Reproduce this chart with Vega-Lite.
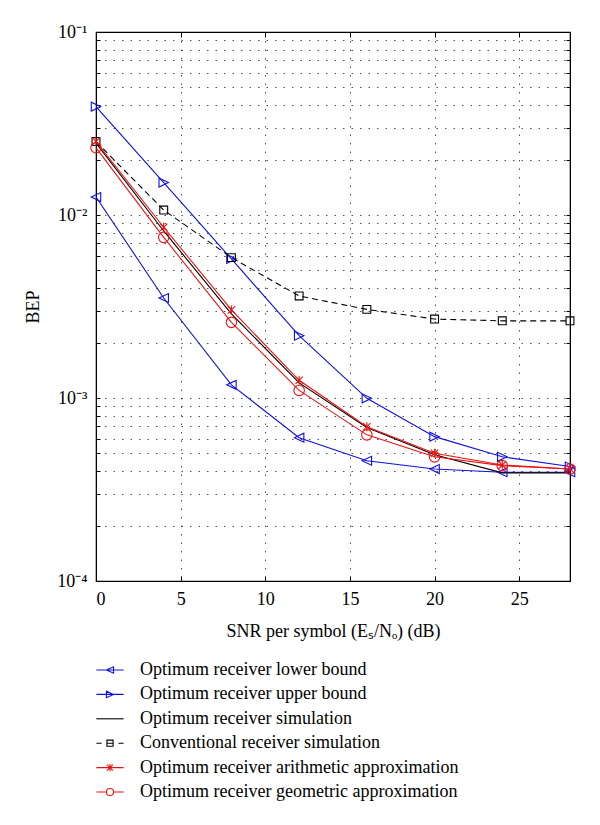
{
  "$schema": "https://vega.github.io/schema/vega-lite/v6.json",
  "autosize": "none",
  "width": 474,
  "height": 549,
  "padding": {"left": 96, "top": 32, "right": 30, "bottom": 244},
  "background": "white",
  "config": {
    "view": {"stroke": "black", "strokeWidth": 1.2},
    "font": "Liberation Serif",
    "axis": {
      "labelFont": "Liberation Serif",
      "titleFont": "Liberation Serif",
      "labelFontSize": 18,
      "titleFontSize": 18,
      "titleFontWeight": "normal",
      "labelColor": "black",
      "titleColor": "black",
      "domainColor": "black",
      "tickColor": "black",
      "gridColor": "#333",
      "gridDash": [1.5, 7],
      "gridWidth": 1,
      "gridOpacity": 0.85
    },
    "legend": {
      "labelFont": "Liberation Serif",
      "labelFontSize": 18,
      "labelColor": "black",
      "labelLimit": 0
    }
  },
  "data": {
    "values": [
      {"snr": 0, "bep": 0.01253, "series": "Optimum receiver lower bound"},
      {"snr": 4, "bep": 0.00352, "series": "Optimum receiver lower bound"},
      {"snr": 8, "bep": 0.00118, "series": "Optimum receiver lower bound"},
      {"snr": 12, "bep": 0.000607, "series": "Optimum receiver lower bound"},
      {"snr": 16, "bep": 0.000454, "series": "Optimum receiver lower bound"},
      {"snr": 20, "bep": 0.000409, "series": "Optimum receiver lower bound"},
      {"snr": 24, "bep": 0.000393, "series": "Optimum receiver lower bound"},
      {"snr": 28, "bep": 0.000393, "series": "Optimum receiver lower bound"},
      {"snr": 0, "bep": 0.0391, "series": "Optimum receiver upper bound"},
      {"snr": 4, "bep": 0.01503, "series": "Optimum receiver upper bound"},
      {"snr": 8, "bep": 0.00575, "series": "Optimum receiver upper bound"},
      {"snr": 12, "bep": 0.00219, "series": "Optimum receiver upper bound"},
      {"snr": 16, "bep": 0.000996, "series": "Optimum receiver upper bound"},
      {"snr": 20, "bep": 0.000615, "series": "Optimum receiver upper bound"},
      {"snr": 24, "bep": 0.000477, "series": "Optimum receiver upper bound"},
      {"snr": 28, "bep": 0.000422, "series": "Optimum receiver upper bound"},
      {"snr": 0, "bep": 0.0247, "series": "Optimum receiver simulation"},
      {"snr": 4, "bep": 0.00818, "series": "Optimum receiver simulation"},
      {"snr": 8, "bep": 0.00288, "series": "Optimum receiver simulation"},
      {"snr": 12, "bep": 0.00121, "series": "Optimum receiver simulation"},
      {"snr": 16, "bep": 0.00069, "series": "Optimum receiver simulation"},
      {"snr": 20, "bep": 0.00049, "series": "Optimum receiver simulation"},
      {"snr": 24, "bep": 0.00039, "series": "Optimum receiver simulation"},
      {"snr": 28, "bep": 0.00039, "series": "Optimum receiver simulation"},
      {"snr": 0, "bep": 0.0252, "series": "Conventional receiver simulation"},
      {"snr": 4, "bep": 0.01064, "series": "Conventional receiver simulation"},
      {"snr": 8, "bep": 0.00585, "series": "Conventional receiver simulation"},
      {"snr": 12, "bep": 0.00361, "series": "Conventional receiver simulation"},
      {"snr": 16, "bep": 0.00305, "series": "Conventional receiver simulation"},
      {"snr": 20, "bep": 0.0027, "series": "Conventional receiver simulation"},
      {"snr": 24, "bep": 0.00264, "series": "Conventional receiver simulation"},
      {"snr": 28, "bep": 0.00264, "series": "Conventional receiver simulation"},
      {"snr": 0, "bep": 0.0252, "series": "Optimum receiver arithmetic approximation"},
      {"snr": 4, "bep": 0.00857, "series": "Optimum receiver arithmetic approximation"},
      {"snr": 8, "bep": 0.00303, "series": "Optimum receiver arithmetic approximation"},
      {"snr": 12, "bep": 0.00125, "series": "Optimum receiver arithmetic approximation"},
      {"snr": 16, "bep": 0.000697, "series": "Optimum receiver arithmetic approximation"},
      {"snr": 20, "bep": 0.000499, "series": "Optimum receiver arithmetic approximation"},
      {"snr": 24, "bep": 0.00043, "series": "Optimum receiver arithmetic approximation"},
      {"snr": 28, "bep": 0.000409, "series": "Optimum receiver arithmetic approximation"},
      {"snr": 0, "bep": 0.0233, "series": "Optimum receiver geometric approximation"},
      {"snr": 4, "bep": 0.00755, "series": "Optimum receiver geometric approximation"},
      {"snr": 8, "bep": 0.00259, "series": "Optimum receiver geometric approximation"},
      {"snr": 12, "bep": 0.0011, "series": "Optimum receiver geometric approximation"},
      {"snr": 16, "bep": 0.000629, "series": "Optimum receiver geometric approximation"},
      {"snr": 20, "bep": 0.000477, "series": "Optimum receiver geometric approximation"},
      {"snr": 24, "bep": 0.000427, "series": "Optimum receiver geometric approximation"},
      {"snr": 28, "bep": 0.000409, "series": "Optimum receiver geometric approximation"}
    ]
  },
  "layer": [
    {
      "transform": [{"filter": "datum.series != 'Conventional receiver simulation'"}],
      "mark": {"type": "line", "strokeWidth": 1.1, "clip": true},
      "encoding": {
        "x": {
          "field": "snr", "type": "quantitative",
          "scale": {"domain": [0, 28], "nice": false, "zero": false},
          "axis": {
            "orient": "bottom",
            "values": [0, 5, 10, 15, 20, 25],
            "title": "SNR per symbol (Eₛ/Nₒ) (dB)",
            "titlePadding": 14,
            "tickSize": -5,
            "labelPadding": 14,
            "grid": true,
            "domain": true
          }
        },
        "y": {
          "field": "bep", "type": "quantitative",
          "scale": {"type": "log", "domain": [0.0001, 0.1], "nice": false},
          "axis": {
            "orient": "left",
            "values": [0.0001, 0.0002, 0.0003, 0.0004, 0.0005, 0.0006, 0.0007, 0.0008, 0.0009, 0.001, 0.002, 0.003, 0.004, 0.005, 0.006, 0.007, 0.008, 0.009, 0.01, 0.02, 0.03, 0.04, 0.05, 0.06, 0.07, 0.08, 0.09, 0.1],
            "labelExpr": "datum.value == 0.1 ? '10⁻¹' : datum.value == 0.01 ? '10⁻²' : datum.value == 0.001 ? '10⁻³' : datum.value == 0.0001 ? '10⁻⁴' : ''",
            "title": "BEP",
            "titlePadding": 14,
            "tickSize": -4,
            "labelPadding": 13,
            "grid": true,
            "domain": true
          }
        },
        "color": {
          "field": "series", "type": "nominal",
          "scale": {
            "domain": ["Optimum receiver lower bound", "Optimum receiver upper bound", "Optimum receiver simulation", "Conventional receiver simulation", "Optimum receiver arithmetic approximation", "Optimum receiver geometric approximation"],
            "range": ["#1010e0", "#1010e0", "#000000", "#000000", "#ee1111", "#ee1111"]
          },
          "legend": {
            "title": null,
            "orient": "none",
            "legendX": 5,
            "legendY": 629,
            "padding": 0,
            "symbolSize": 42,
            "symbolStrokeWidth": 1.1,
            "labelOffset": 21,
            "rowPadding": 6.4,
            "symbolType": "stroke",
            "encode": {
              "symbols": {
                "update": {
                  "fill": {"value": "transparent"},
                  "shape": {"signal": "datum.value == 'Optimum receiver lower bound' ? 'M-4.2,0H4.2M-1.1,0L1.1,-1L1.1,1Z' : datum.value == 'Optimum receiver upper bound' ? 'M-4.2,0H4.2M1.1,0L-1.1,-1L-1.1,1Z' : datum.value == 'Optimum receiver simulation' ? 'M-4.2,0H4.2' : datum.value == 'Conventional receiver simulation' ? 'M-4.2,0H-2.6M2.6,0H4.2M-0.95,-0.95H0.95V0.95H-0.95ZM-0.95,0H0.95' : datum.value == 'Optimum receiver arithmetic approximation' ? 'M-4.2,0H4.2M0,-1.1V1.1M-0.9,-0.9L0.9,0.9M-0.9,0.9L0.9,-0.9' : 'M-4.2,0H-1.1M1.1,0H4.2M-1.1,0A1.1,1.1 0 1,0 1.1,0A1.1,1.1 0 1,0 -1.1,0'"}
                }
              }
            }
          }
        }
      }
    },
    {
      "transform": [{"filter": "datum.series == 'Conventional receiver simulation'"}],
      "mark": {"type": "line", "strokeWidth": 1.1, "strokeDash": [6, 4], "clip": true},
      "encoding": {
        "x": {"field": "snr", "type": "quantitative", "axis": null},
        "y": {"field": "bep", "type": "quantitative", "axis": null},
        "color": {"field": "series", "type": "nominal", "legend": null}
      }
    },
    {
      "transform": [{"filter": "datum.series != 'Optimum receiver simulation'"}],
      "mark": {"type": "point", "filled": false, "strokeWidth": 1.1, "size": 110, "opacity": 1, "clip": false},
      "encoding": {
        "x": {
          "field": "snr", "type": "quantitative",
          "axis": {"orient": "top", "values": [0, 5, 10, 15, 20, 25], "labels": false, "title": null, "grid": false, "tickSize": -5, "domain": true}
        },
        "y": {
          "field": "bep", "type": "quantitative",
          "axis": {
            "orient": "right",
            "values": [0.0001, 0.0002, 0.0003, 0.0004, 0.0005, 0.0006, 0.0007, 0.0008, 0.0009, 0.001, 0.002, 0.003, 0.004, 0.005, 0.006, 0.007, 0.008, 0.009, 0.01, 0.02, 0.03, 0.04, 0.05, 0.06, 0.07, 0.08, 0.09, 0.1],
            "labels": false, "title": null, "grid": false, "tickSize": -4, "domain": true
          }
        },
        "color": {"field": "series", "type": "nominal", "legend": null},
        "shape": {
          "field": "series", "type": "nominal",
          "scale": {
            "domain": ["Optimum receiver lower bound", "Optimum receiver upper bound", "Conventional receiver simulation", "Optimum receiver arithmetic approximation", "Optimum receiver geometric approximation"],
            "range": ["M-0.9,0L0.9,-0.85L0.9,0.85Z", "M0.9,0L-0.9,-0.85L-0.9,0.85Z", "M-0.75,-0.75H0.75V0.75H-0.75Z", "M0,-0.85V0.85M-0.7,-0.7L0.7,0.7M-0.7,0.7L0.7,-0.7", "circle"]
          },
          "legend": null
        }
      }
    }
  ],
  "resolve": {"axis": {"x": "independent", "y": "independent"}}
}
